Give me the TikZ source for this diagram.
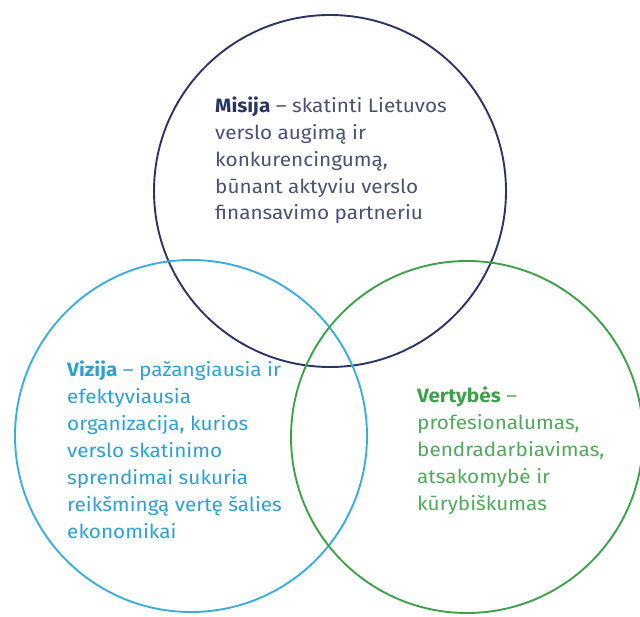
\documentclass[tikz,border=0pt]{standalone}
\usepackage{fontspec}
\setmainfont{Fira Sans}[FakeStretch=1.075]
\definecolor{navyc}{HTML}{2B3462}
\definecolor{navyt}{HTML}{4A5273}
\definecolor{bluec}{HTML}{3BADDC}
\definecolor{bluet}{HTML}{2E9FD4}
\definecolor{greenc}{HTML}{3FA04A}
\definecolor{greent}{HTML}{52A95B}
\tikzset{
  ring/.style={draw=#1, line width=1.9pt, circle, minimum size=352pt, inner sep=0pt},
  txt/.style={anchor=base west, align=left, inner sep=0pt, font=\fontsize{19.3}{26.9}\selectfont}
}
\begin{document}
\begin{tikzpicture}[x=1pt,y=-1pt]
\useasboundingbox (0,0) rectangle (640,617);
\clip (0,0) rectangle (640,617);
\node[ring=navyc] (top) at (330,191) {};
\node[ring=bluec] (left) at (191,436) {};
\node[ring=greenc] (right) at (467,437) {};
\node[txt, text=navyt] (mis) at (215,220) {\textbf{\color{navyc}Misija} – skatinti Lietuvos\\verslo augimą ir\\konkurencingumą,\\būnant aktyviu verslo\\finansavimo partneriu};
\node[txt, text=bluet] (viz) at (67,538) {\textbf{\color{bluet}Vizija} – pažangiausia ir\\efektyviausia\\organizacija, kurios\\verslo skatinimo\\sprendimai sukuria\\reikšmingą vertę šalies\\ekonomikai};
\node[txt, text=greent] (ver) at (417,510) {\textbf{\color{greenc}Vertybės} –\\profesionalumas,\\bendradarbiavimas,\\atsakomybė ir\\kūrybiškumas};
\end{tikzpicture}
\end{document}
